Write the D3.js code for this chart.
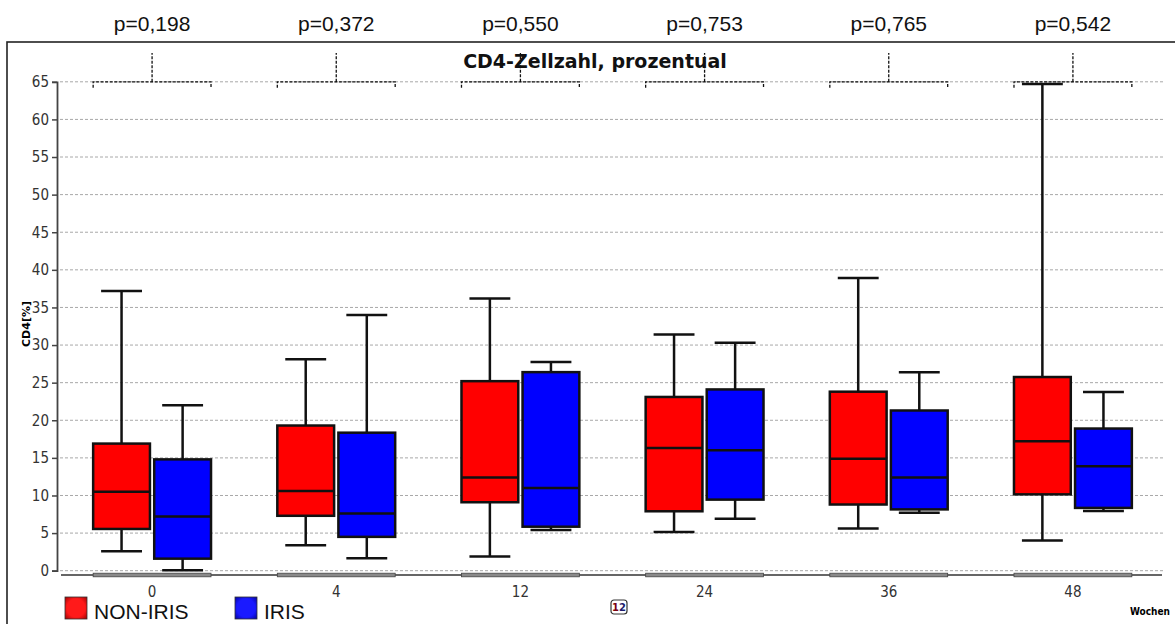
<!DOCTYPE html>
<html>
<head>
<meta charset="utf-8">
<script src="https://cdn.jsdelivr.net/npm/d3@7/dist/d3.min.js"></script>
<style>
    body { margin: 0; background: #fff; }
    svg { display: block; }
    .tick-label { font-family: "Liberation Sans Narrow", "Arial Narrow", "DejaVu Sans Condensed", "Liberation Sans", sans-serif; font-size: 15px; fill: #333; }
</style>
</head>
<body>
<svg id="chart"></svg>
<script>
// weeks on the x axis, one box pair per week
const weeks = ['0', '4', '12', '24', '36', '48'];
const groups = ['NON-IRIS', 'IRIS'];
const pValues = ['p=0,198', 'p=0,372', 'p=0,550', 'p=0,753', 'p=0,765', 'p=0,542'];

// [lower whisker, Q1, median, Q3, upper whisker]
const nonIrisStats = [
    [2.6, 5.55, 10.5, 16.9, 37.2],
    [3.4, 7.3, 10.6, 19.3, 28.1],
    [1.9, 9.1, 12.4, 25.2, 36.2],
    [5.15, 7.9, 16.3, 23.1, 31.4],
    [5.6, 8.8, 14.9, 23.8, 38.9],
    [4.0, 10.15, 17.2, 25.75, 64.7]
];
const irisStats = [
    [0.05, 1.6, 7.2, 14.8, 22.0],
    [1.65, 4.5, 7.6, 18.35, 34.0],
    [5.4, 5.85, 11.0, 26.4, 27.75],
    [6.9, 9.45, 16.0, 24.1, 30.3],
    [7.7, 8.15, 12.4, 21.3, 26.4],
    [7.95, 8.35, 13.9, 18.9, 23.75]
];
const yTickValues = [0, 5, 10, 15, 20, 25, 30, 35, 40, 45, 50, 55, 60, 65];
const bracketLevel = 65;

const colors = { 'NON-IRIS': '#ff0000', 'IRIS': '#0000ff' };
const W = 1175, H = 624;

const svg = d3.select('#chart').attr('width', W).attr('height', H);

const defs = svg.append('defs');
[['NON-IRIS', '#ff1a1a', '#8a0000'], ['IRIS', '#1a1aff', '#00008a']].forEach(([k, c0, c1]) => {
    const g = defs.append('radialGradient').attr('id', 'lg-' + k).attr('r', '0.75');
    g.append('stop').attr('offset', '55%').attr('stop-color', c0);
    g.append('stop').attr('offset', '100%').attr('stop-color', c1);
});

// outer frame (only top and left edges are visible)
svg.append('rect')
    .attr('x', 7).attr('y', 42)
    .attr('width', W + 20).attr('height', H + 20)
    .attr('fill', 'none').attr('stroke', '#222').attr('stroke-width', 1.6);

const x = d3.scaleBand()
    .domain(weeks)
    .range([60, 1165])
    .paddingInner(0.36)
    .paddingOuter(0.18);

const xSub = d3.scaleBand()
    .domain(groups)
    .range([0, x.bandwidth()])
    .paddingInner(0.07);

const y = d3.scaleLinear()
    .domain([0, 65])
    .range([570.7, 81.8]);

// gridlines
svg.append('g')
    .selectAll('line')
    .data(yTickValues)
    .join('line')
    .attr('x1', 60).attr('x2', 1165)
    .attr('y1', d => y(d)).attr('y2', d => y(d))
    .attr('stroke', '#a8a8a8')
    .attr('stroke-width', 1)
    .attr('stroke-dasharray', '3,2');

// y axis
const yAxis = svg.append('g')
    .attr('transform', 'translate(57,0)')
    .call(d3.axisLeft(y).tickValues(yTickValues).tickSize(5).tickSizeOuter(5).tickPadding(3));
yAxis.select('.domain').attr('stroke', '#444').attr('stroke-width', 1.8);
yAxis.selectAll('.tick line').attr('stroke', '#444').attr('stroke-width', 1.5);
yAxis.selectAll('.tick text').attr('class', 'tick-label').attr('font-family', null).attr('font-size', null);

svg.append('text')
    .attr('transform', 'translate(30,324) rotate(-90)')
    .attr('text-anchor', 'middle')
    .style('font-family', '"DejaVu Sans", sans-serif')
    .style('font-weight', 'bold')
    .style('font-size', '11px')
    .text('CD4[%]');

// x axis line and group segments
svg.append('line')
    .attr('x1', 61).attr('x2', 1162)
    .attr('y1', 575).attr('y2', 575)
    .attr('stroke', '#333').attr('stroke-width', 1.5);

svg.append('g')
    .selectAll('rect')
    .data(weeks)
    .join('rect')
    .attr('x', d => x(d))
    .attr('y', 573.2)
    .attr('width', x.bandwidth())
    .attr('height', 3.6)
    .attr('fill', '#8a8a8a')
    .attr('stroke', '#444')
    .attr('stroke-width', 0.8);

svg.append('g')
    .selectAll('text')
    .data(weeks)
    .join('text')
    .attr('class', 'tick-label')
    .attr('x', d => x(d) + x.bandwidth() / 2)
    .attr('y', 597)
    .attr('text-anchor', 'middle')
    .text(d => d);

svg.append('text')
    .attr('x', 1170).attr('y', 615)
    .attr('text-anchor', 'end')
    .style('font-family', '"DejaVu Sans Condensed", "DejaVu Sans", sans-serif')
    .style('font-weight', 'bold')
    .style('font-size', '10px')
    .text('Wochen');

// title
svg.append('text')
    .attr('x', 595).attr('y', 68)
    .attr('text-anchor', 'middle')
    .style('font-family', '"DejaVu Sans", sans-serif')
    .style('font-weight', 'bold')
    .style('font-size', '19px')
    .style('fill', '#111')
    .text('CD4-Zellzahl, prozentual');

// boxes
const series = [
    { name: 'NON-IRIS', stats: nonIrisStats },
    { name: 'IRIS', stats: irisStats }
];

series.forEach(s => {
    const g = svg.append('g');
    const bw = xSub.bandwidth();
    const capW = bw * 0.72;
    s.stats.forEach((st, i) => {
        const [lo, q1, med, q3, hi] = st;
        const x0 = x(weeks[i]) + xSub(s.name);
        const cx = x0 + bw / 2;

        // whisker stems
        g.append('line')
            .attr('x1', cx).attr('x2', cx)
            .attr('y1', y(hi)).attr('y2', y(lo))
            .attr('stroke', '#111').attr('stroke-width', 2.5);
        // caps
        [lo, hi].forEach(v => {
            g.append('line')
                .attr('x1', cx - capW / 2).attr('x2', cx + capW / 2)
                .attr('y1', y(v)).attr('y2', y(v))
                .attr('stroke', '#111').attr('stroke-width', 2.5);
        });
        // box
        g.append('rect')
            .attr('x', x0).attr('y', y(q3))
            .attr('width', bw).attr('height', y(q1) - y(q3))
            .attr('fill', colors[s.name])
            .attr('stroke', '#111').attr('stroke-width', 2.5);
        // median
        g.append('line')
            .attr('x1', x0).attr('x2', x0 + bw)
            .attr('y1', y(med)).attr('y2', y(med))
            .attr('stroke', '#111').attr('stroke-width', 2.5);
    });
});

// p-value brackets
const brackets = svg.append('g')
    .attr('fill', 'none')
    .attr('stroke', '#111')
    .attr('stroke-width', 1.3)
    .attr('stroke-dasharray', '3,1.5');

weeks.forEach((w, i) => {
    const x0 = x(w), x1 = x(w) + x.bandwidth(), cx = (x0 + x1) / 2;
    const yb = y(bracketLevel);
    brackets.append('path')
        .attr('d', `M${x0},${yb + 6}V${yb}H${x1}V${yb + 6}M${cx},${yb}V53`);
    svg.append('text')
        .attr('x', cx).attr('y', 31)
        .attr('text-anchor', 'middle')
        .style('font-family', '"Liberation Sans", Arial, sans-serif')
        .style('font-size', '21px')
        .style('fill', '#111')
        .text(pValues[i]);
});

// legend
const legend = svg.append('g').attr('transform', 'translate(65,597)');
const legendX = { 'NON-IRIS': 0, 'IRIS': 170 };
groups.forEach(k => {
    const row = legend.append('g').attr('transform', `translate(${legendX[k]},0)`);
    row.append('rect')
        .attr('width', 22).attr('height', 22)
        .attr('fill', `url(#lg-${k})`)
        .attr('stroke', '#333').attr('stroke-width', 0.8);
    row.append('text')
        .attr('x', 29).attr('y', 22)
        .style('font-family', '"Liberation Sans", Arial, sans-serif')
        .style('font-size', '21px')
        .style('fill', '#111')
        .text(k);
});

// page badge
const badge = svg.append('g').attr('transform', 'translate(611,600)');
badge.append('rect')
    .attr('width', 16).attr('height', 14).attr('rx', 3)
    .attr('fill', '#fff').attr('stroke', '#333').attr('stroke-width', 1.2);
const bt = badge.append('text')
    .attr('x', 8).attr('y', 11)
    .attr('text-anchor', 'middle')
    .style('font-family', '"DejaVu Sans", sans-serif')
    .style('font-weight', 'bold')
    .style('font-size', '10px');
bt.append('tspan').attr('fill', '#7a0010').text('1');
bt.append('tspan').attr('fill', '#1a1a6a').text('2');
</script>
</body>
</html>
